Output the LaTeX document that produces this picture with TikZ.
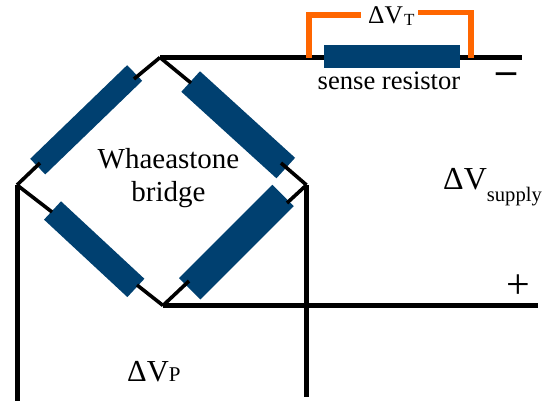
\documentclass[tikz,border=0pt]{standalone}
\usepackage{fontspec}
\setmainfont{Liberation Serif}
\definecolor{resistorblue}{HTML}{004070}
\definecolor{probeorange}{HTML}{FF6600}
\newcommand{\lowtext}[3]{\raisebox{#1}{\fontsize{#2}{#2}\selectfont #3}}
\tikzset{
    resistor/.style={fill=resistorblue, inner sep=0pt, minimum width=#1},
    resistor/.default=130pt,
    wire/.style={line width=5pt, black},
    thinwire/.style={line width=3.6pt, black},
    probe/.style={line width=5.4pt, probeorange},
    label/.style={font=\fontsize{29}{33}\selectfont, align=center, inner sep=0pt}
}
\begin{document}
\begin{tikzpicture}[x=1pt, y=1pt]
    \useasboundingbox (0, 0) rectangle (545, 401);

    % Bridge corners
    \coordinate (top) at (160, 343.5);
    \coordinate (left) at (17, 216);
    \coordinate (right) at (306.5, 216);
    \coordinate (bottom) at (163, 95.5);

    % Free ends of the long wires
    \coordinate (leftEnd) at (17, 0);
    \coordinate (rightEnd) at (306.5, 4);
    \coordinate (bottomEnd) at (538, 95.5);
    \coordinate (topEnd) at (522, 343.5);

    % Long wires
    \draw[wire] (top) -- (topEnd);
    \draw[wire] (bottom) -- (bottomEnd);
    \draw[wire] (left) -- (leftEnd);
    \draw[wire] (right) -- (rightEnd);

    % Bridge resistors
    \node[resistor=134.8pt, minimum height=21.7pt, rotate=44] (upperLeft) at (86.2, 281.2) {};
    \node[resistor=128.6pt, minimum height=27.7pt, rotate=-42.3] (upperRight) at (238.2, 276.2) {};
    \node[resistor=113.8pt, minimum height=25pt, rotate=-42.9] (lowerLeft) at (94.2, 151.8) {};
    \node[resistor=132pt, minimum height=30.2pt, rotate=45] (lowerRight) at (236.4, 158.9) {};

    % Sense resistor
    \node[resistor=136pt, minimum height=22.7pt] (sense) at (392, 344.6) {};

    % Where the short wires stop
    \coordinate (upperLeftA) at (134, 322);
    \coordinate (upperLeftB) at (40, 238);
    \coordinate (upperRightA) at (191, 318);
    \coordinate (upperRightB) at (281, 238);
    \coordinate (lowerLeftA) at (52, 189);
    \coordinate (lowerLeftB) at (137, 116);
    \coordinate (lowerRightA) at (287, 198);
    \coordinate (lowerRightB) at (189, 120);

    % Short wires
    \draw[thinwire] (top) -- (upperLeftA);
    \draw[thinwire] (left) -- (upperLeftB);
    \draw[thinwire] (top) -- (upperRightA);
    \draw[thinwire] (right) -- (upperRightB);
    \draw[thinwire] (left) -- (lowerLeftA);
    \draw[thinwire] (bottom) -- (lowerLeftB);
    \draw[thinwire] (right) -- (lowerRightA);
    \draw[thinwire] (bottom) -- (lowerRightB);

    % Orange probes
    \coordinate (probeLeftA) at (309, 343);
    \coordinate (probeLeftB) at (309, 386);
    \coordinate (probeLeftC) at (361, 386);
    \coordinate (probeRightA) at (471, 343);
    \coordinate (probeRightB) at (471, 388.3);
    \coordinate (probeRightC) at (418, 388.3);
    \draw[probe] (probeLeftA) -- (probeLeftB) -- (probeLeftC);
    \draw[probe] (probeRightA) -- (probeRightB) -- (probeRightC);

    % Labels
    \node[label, anchor=base] (bridgeText) at (168.5, 199) {Whaeastone\\bridge};
    \node[label, anchor=base] (senseText) at (389, 311) {\fontsize{26.6}{30}\selectfont sense resistor};
    \node[label, anchor=base west] (deltaT) at (368, 377) {\fontsize{25.5}{28}\selectfont ΔV\hspace{1pt}\lowtext{-2pt}{17}{T}};
    \node[label, anchor=base west] (deltaSupply) at (443, 211) {\fontsize{32}{32}\selectfont ΔV\lowtext{-11.5pt}{20.6}{supply}};
    \node[label, anchor=base west] (deltaP) at (127, 20) {\fontsize{30.5}{32}\selectfont ΔV\lowtext{0pt}{21}{P}};
    \node[label, anchor=base] (minusText) at (506.5, 317.5) {\fontsize{40}{40}\selectfont\bfseries –};
    \node[label, anchor=base] (plusText) at (518, 102) {\fontsize{42}{42}\selectfont +};
\end{tikzpicture}
\end{document}
